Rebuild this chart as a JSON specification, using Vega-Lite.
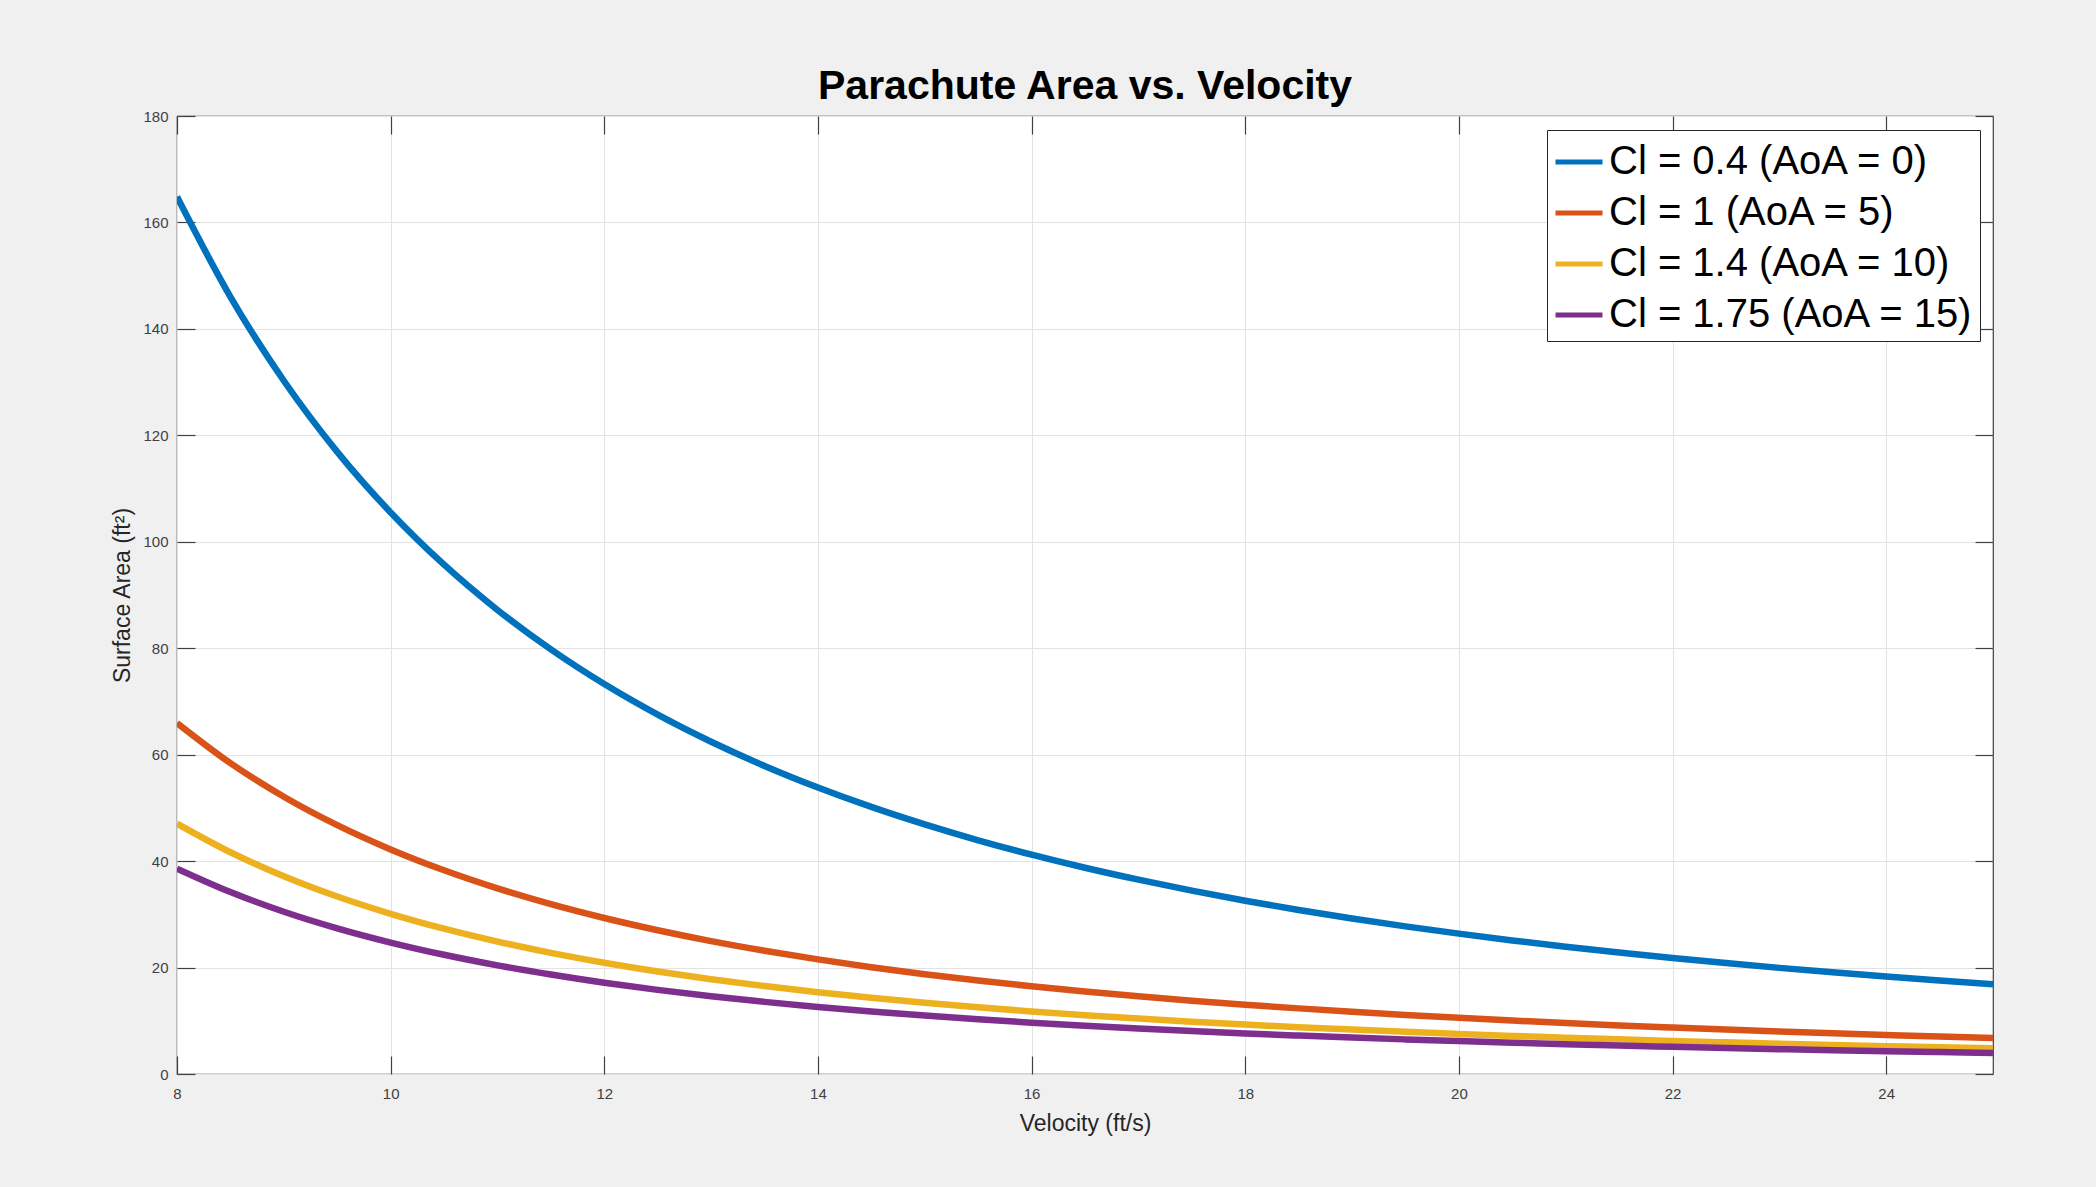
{
  "$schema": "https://vega.github.io/schema/vega-lite/v6.json",
  "width": 1816,
  "height": 958,
  "autosize": {"type": "none"},
  "padding": {"left": 177, "top": 116, "right": 103, "bottom": 113},
  "background": "#f0f0f0",
  "config": {
    "font": "Liberation Sans",
    "view": {"fill": "white", "stroke": "#404040", "strokeWidth": 1.2},
    "axis": {"domain": false}
  },
  "title": {
    "text": "Parachute Area vs. Velocity",
    "fontSize": 41,
    "fontWeight": "bold",
    "color": "#000000",
    "font": "Liberation Sans",
    "baseline": "alphabetic",
    "offset": -31,
    "frame": "group"
  },
  "data": {
    "values": [
      {"v":8,"s":"a","A":164.84},{"v":8.5,"s":"a","A":146.02},{"v":9,"s":"a","A":130.25},{"v":9.5,"s":"a","A":116.89},{"v":10,"s":"a","A":105.5},{"v":10.5,"s":"a","A":95.69},{"v":11,"s":"a","A":87.19},{"v":11.5,"s":"a","A":79.77},{"v":12,"s":"a","A":73.26},{"v":12.5,"s":"a","A":67.52},{"v":13,"s":"a","A":62.43},{"v":13.5,"s":"a","A":57.89},{"v":14,"s":"a","A":53.83},{"v":14.5,"s":"a","A":50.18},{"v":15,"s":"a","A":46.89},{"v":15.5,"s":"a","A":43.91},{"v":16,"s":"a","A":41.21},{"v":16.5,"s":"a","A":38.75},{"v":17,"s":"a","A":36.51},{"v":17.5,"s":"a","A":34.45},{"v":18,"s":"a","A":32.56},{"v":18.5,"s":"a","A":30.82},{"v":19,"s":"a","A":29.22},{"v":19.5,"s":"a","A":27.74},{"v":20,"s":"a","A":26.38},{"v":20.5,"s":"a","A":25.1},{"v":21,"s":"a","A":23.92},{"v":21.5,"s":"a","A":22.82},{"v":22,"s":"a","A":21.8},{"v":22.5,"s":"a","A":20.84},{"v":23,"s":"a","A":19.94},{"v":23.5,"s":"a","A":19.1},{"v":24,"s":"a","A":18.32},{"v":24.5,"s":"a","A":17.58},{"v":25,"s":"a","A":16.88},
      {"v":8,"s":"b","A":65.94},{"v":8.5,"s":"b","A":58.41},{"v":9,"s":"b","A":52.1},{"v":9.5,"s":"b","A":46.76},{"v":10,"s":"b","A":42.2},{"v":10.5,"s":"b","A":38.28},{"v":11,"s":"b","A":34.88},{"v":11.5,"s":"b","A":31.91},{"v":12,"s":"b","A":29.31},{"v":12.5,"s":"b","A":27.01},{"v":13,"s":"b","A":24.97},{"v":13.5,"s":"b","A":23.16},{"v":14,"s":"b","A":21.53},{"v":14.5,"s":"b","A":20.07},{"v":15,"s":"b","A":18.76},{"v":15.5,"s":"b","A":17.56},{"v":16,"s":"b","A":16.48},{"v":16.5,"s":"b","A":15.5},{"v":17,"s":"b","A":14.6},{"v":17.5,"s":"b","A":13.78},{"v":18,"s":"b","A":13.02},{"v":18.5,"s":"b","A":12.33},{"v":19,"s":"b","A":11.69},{"v":19.5,"s":"b","A":11.1},{"v":20,"s":"b","A":10.55},{"v":20.5,"s":"b","A":10.04},{"v":21,"s":"b","A":9.57},{"v":21.5,"s":"b","A":9.13},{"v":22,"s":"b","A":8.72},{"v":22.5,"s":"b","A":8.34},{"v":23,"s":"b","A":7.98},{"v":23.5,"s":"b","A":7.64},{"v":24,"s":"b","A":7.33},{"v":24.5,"s":"b","A":7.03},{"v":25,"s":"b","A":6.75},
      {"v":8,"s":"c","A":47.03},{"v":8.5,"s":"c","A":41.66},{"v":9,"s":"c","A":37.16},{"v":9.5,"s":"c","A":33.35},{"v":10,"s":"c","A":30.1},{"v":10.5,"s":"c","A":27.3},{"v":11,"s":"c","A":24.88},{"v":11.5,"s":"c","A":22.76},{"v":12,"s":"c","A":20.9},{"v":12.5,"s":"c","A":19.26},{"v":13,"s":"c","A":17.81},{"v":13.5,"s":"c","A":16.52},{"v":14,"s":"c","A":15.36},{"v":14.5,"s":"c","A":14.32},{"v":15,"s":"c","A":13.38},{"v":15.5,"s":"c","A":12.53},{"v":16,"s":"c","A":11.76},{"v":16.5,"s":"c","A":11.06},{"v":17,"s":"c","A":10.42},{"v":17.5,"s":"c","A":9.83},{"v":18,"s":"c","A":9.29},{"v":18.5,"s":"c","A":8.79},{"v":19,"s":"c","A":8.34},{"v":19.5,"s":"c","A":7.92},{"v":20,"s":"c","A":7.53},{"v":20.5,"s":"c","A":7.16},{"v":21,"s":"c","A":6.83},{"v":21.5,"s":"c","A":6.51},{"v":22,"s":"c","A":6.22},{"v":22.5,"s":"c","A":5.95},{"v":23,"s":"c","A":5.69},{"v":23.5,"s":"c","A":5.45},{"v":24,"s":"c","A":5.23},{"v":24.5,"s":"c","A":5.01},{"v":25,"s":"c","A":4.82},
      {"v":8,"s":"d","A":38.59},{"v":8.5,"s":"d","A":34.19},{"v":9,"s":"d","A":30.49},{"v":9.5,"s":"d","A":27.37},{"v":10,"s":"d","A":24.7},{"v":10.5,"s":"d","A":22.4},{"v":11,"s":"d","A":20.41},{"v":11.5,"s":"d","A":18.68},{"v":12,"s":"d","A":17.15},{"v":12.5,"s":"d","A":15.81},{"v":13,"s":"d","A":14.62},{"v":13.5,"s":"d","A":13.55},{"v":14,"s":"d","A":12.6},{"v":14.5,"s":"d","A":11.75},{"v":15,"s":"d","A":10.98},{"v":15.5,"s":"d","A":10.28},{"v":16,"s":"d","A":9.65},{"v":16.5,"s":"d","A":9.07},{"v":17,"s":"d","A":8.55},{"v":17.5,"s":"d","A":8.07},{"v":18,"s":"d","A":7.62},{"v":18.5,"s":"d","A":7.22},{"v":19,"s":"d","A":6.84},{"v":19.5,"s":"d","A":6.5},{"v":20,"s":"d","A":6.18},{"v":20.5,"s":"d","A":5.88},{"v":21,"s":"d","A":5.6},{"v":21.5,"s":"d","A":5.34},{"v":22,"s":"d","A":5.1},{"v":22.5,"s":"d","A":4.88},{"v":23,"s":"d","A":4.67},{"v":23.5,"s":"d","A":4.47},{"v":24,"s":"d","A":4.29},{"v":24.5,"s":"d","A":4.12},{"v":25,"s":"d","A":3.95}
    ]
  },
  "layer": [
    {
      "mark": {"type": "line", "strokeWidth": 6.5, "interpolate": "monotone", "clip": true},
      "encoding": {
        "x": {
          "field": "v", "type": "quantitative",
          "scale": {"domain": [8, 25], "nice": false, "zero": false},
          "axis": {
            "orient": "bottom",
            "title": "Velocity (ft/s)",
            "titleFontSize": 23, "titleFontWeight": "normal", "titleColor": "#262626", "titlePadding": 11,
            "values": [8, 10, 12, 14, 16, 18, 20, 22, 24],
            "labelFontSize": 15, "labelColor": "#404040", "labelPadding": 30, "labelFlush": false,
            "tickSize": -18, "tickColor": "#404040", "tickWidth": 1.2,
            "grid": true, "gridColor": "#e2e2e2", "gridWidth": 1
          }
        },
        "y": {
          "field": "A", "type": "quantitative",
          "scale": {"domain": [0, 180], "nice": false},
          "axis": {
            "orient": "left",
            "title": "Surface Area (ft²)",
            "titleFontSize": 23, "titleFontWeight": "normal", "titleColor": "#262626", "titlePadding": 8,
            "values": [0, 20, 40, 60, 80, 100, 120, 140, 160, 180],
            "labelFontSize": 15, "labelColor": "#404040", "labelPadding": 27, "labelFlush": false,
            "tickSize": -18, "tickColor": "#404040", "tickWidth": 1.2,
            "grid": true, "gridColor": "#e2e2e2", "gridWidth": 1
          }
        },
        "color": {
          "field": "s", "type": "nominal",
          "scale": {"domain": ["a", "b", "c", "d"], "range": ["#0072BD", "#D95319", "#EDB120", "#7E2F8E"]},
          "legend": {
            "title": null,
            "orient": "none",
            "legendX": 1370,
            "legendY": 14,
            "labelExpr": "datum.value == 'a' ? 'Cl = 0.4 (AoA = 0)' : datum.value == 'b' ? 'Cl = 1 (AoA = 5)' : datum.value == 'c' ? 'Cl = 1.4 (AoA = 10)' : 'Cl = 1.75 (AoA = 15)'",
            "labelFontSize": 40, "labelColor": "#000000", "labelFont": "Liberation Sans",
            "labelOffset": 4, "labelLimit": 1000,
            "symbolType": "stroke", "symbolSize": 2209, "symbolStrokeWidth": 5,
            "rowPadding": 5,
            "padding": 6,
            "strokeColor": "#262626", "fillColor": "white"
          }
        }
      }
    },
    {
      "mark": {"type": "line", "opacity": 0},
      "encoding": {
        "x": {
          "field": "v", "type": "quantitative",
          "axis": {"orient": "top", "title": null, "labels": false, "grid": false, "values": [8, 10, 12, 14, 16, 18, 20, 22, 24], "tickSize": -18, "tickColor": "#404040", "tickWidth": 1.2}
        },
        "y": {
          "field": "A", "type": "quantitative",
          "axis": {"orient": "right", "title": null, "labels": false, "grid": false, "values": [0, 20, 40, 60, 80, 100, 120, 140, 160, 180], "tickSize": -18, "tickColor": "#404040", "tickWidth": 1.2}
        },
        "detail": {"field": "s", "type": "nominal"}
      }
    }
  ],
  "resolve": {"axis": {"x": "independent", "y": "independent"}}
}
